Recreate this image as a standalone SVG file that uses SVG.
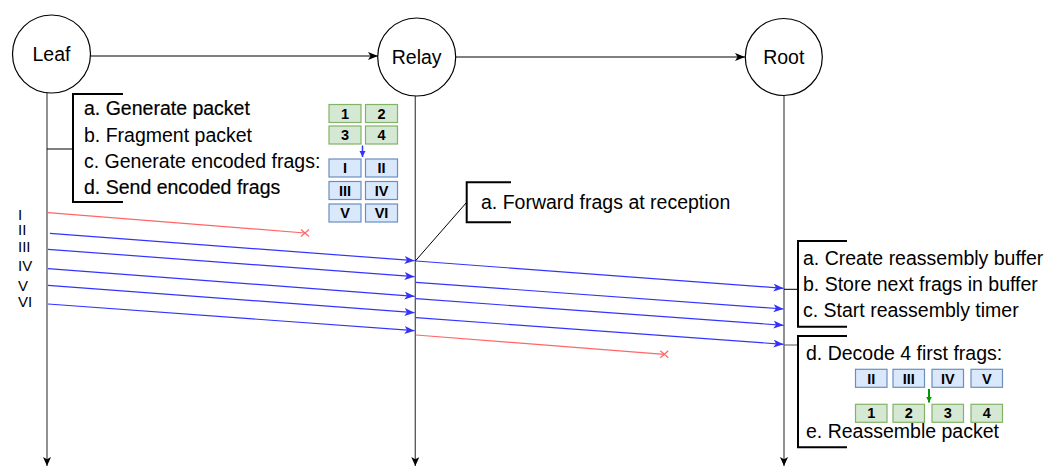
<svg xmlns="http://www.w3.org/2000/svg" width="1047" height="467" viewBox="0 0 1047 467">
<style>
text{font-family:"Liberation Sans",Arial,Helvetica,sans-serif;}
.lbl{font-size:19.5px;fill:#000;}
.node{fill:#fff;stroke:#000;stroke-width:1.2;}
.life{stroke:#555;stroke-width:1.3;fill:none;}
.brk{stroke:#000;stroke-width:2;fill:none;}
.thin{stroke:#000;stroke-width:1;fill:none;}
.msg{stroke:#3333ff;stroke-width:1.2;fill:none;}
.lost{stroke:#ff6666;stroke-width:1.2;fill:none;}
.g{fill:#d5e8d4;stroke:#82b366;stroke-width:1.2;}
.b{fill:#dae8fc;stroke:#6c8ebf;stroke-width:1.2;}
.bt{font-size:14.5px;font-weight:bold;text-anchor:middle;fill:#000;}
.num{font-size:15px;fill:#000;}
.em{stroke:#000;stroke-width:0.2;}
</style>
<defs>
<marker id="ab" markerUnits="userSpaceOnUse" markerWidth="12" markerHeight="10" refX="10" refY="4" orient="auto">
<path d="M0,0 L10,4 L0,8 L2.5,4 Z" fill="#000"/>
</marker>
<marker id="ablue" markerUnits="userSpaceOnUse" markerWidth="12" markerHeight="10" refX="10" refY="4" orient="auto">
<path d="M0,0 L10,4 L0,8 L2.5,4 Z" fill="#3333ff"/>
</marker>
<marker id="agrey" markerUnits="userSpaceOnUse" markerWidth="12" markerHeight="10" refX="9" refY="4" orient="auto">
<path d="M0,0 L9,4 L0,8 L2.2,4 Z" fill="#000"/>
</marker>
<marker id="asmb" markerUnits="userSpaceOnUse" markerWidth="8" markerHeight="8" refX="6" refY="3" orient="auto">
<path d="M0,0 L6,3 L0,6 Z" fill="#3333ff"/>
</marker>
<marker id="asmg" markerUnits="userSpaceOnUse" markerWidth="8" markerHeight="8" refX="6" refY="3" orient="auto">
<path d="M0,0 L6,3 L0,6 Z" fill="#009900"/>
</marker>
</defs>

<g id="connectors">
<line x1="91" y1="56" x2="378" y2="56" stroke="#555" stroke-width="1.3" marker-end="url(#ab)"/>
<line x1="456" y1="57" x2="745" y2="57" class="thin" marker-end="url(#ab)"/>
<line x1="47" y1="92.5" x2="47" y2="466" class="life" marker-end="url(#agrey)"/>
<line x1="415.3" y1="96" x2="415.3" y2="466" class="life" marker-end="url(#agrey)"/>
<line x1="784" y1="96" x2="784" y2="466" class="life" marker-end="url(#agrey)"/>
<line x1="48" y1="212.7" x2="305" y2="233" class="lost"/>
<line x1="50" y1="233.3" x2="414.5" y2="260.7" class="msg" marker-end="url(#ablue)"/>
<line x1="48" y1="249.3" x2="414.5" y2="276.7" class="msg" marker-end="url(#ablue)"/>
<line x1="48" y1="268.7" x2="414.5" y2="296.3" class="msg" marker-end="url(#ablue)"/>
<line x1="48" y1="285.3" x2="414.5" y2="312.7" class="msg" marker-end="url(#ablue)"/>
<line x1="48" y1="304" x2="414.5" y2="330.7" class="msg" marker-end="url(#ablue)"/>
<line x1="416" y1="261" x2="783.5" y2="288.3" class="msg" marker-end="url(#ablue)"/>
<line x1="416" y1="282.3" x2="783.5" y2="309" class="msg" marker-end="url(#ablue)"/>
<line x1="416" y1="298.7" x2="783.5" y2="325.3" class="msg" marker-end="url(#ablue)"/>
<line x1="416" y1="317.7" x2="783.5" y2="344.3" class="msg" marker-end="url(#ablue)"/>
<line x1="416" y1="335" x2="664.3" y2="354.3" class="lost"/>
<path d="M301,229.5 L309,236.5 M309,229.5 L301,236.5" class="lost"/>
<path d="M660.3,350.8 L668.3,357.8 M668.3,350.8 L660.3,357.8" class="lost"/>
<line x1="47" y1="149" x2="73" y2="149" class="thin"/>
<line x1="466.7" y1="202.3" x2="415.3" y2="261" class="thin"/>
<line x1="784" y1="289.3" x2="798" y2="289.3" class="thin"/>
<line x1="784" y1="345" x2="798" y2="345" stroke="#555" stroke-width="1"/>
</g>

<g id="leaf">
<circle cx="51.5" cy="54" r="39" class="node"/>
<text x="51.5" y="61" class="lbl" text-anchor="middle">Leaf</text>
</g>
<g id="relay">
<circle cx="416.7" cy="57" r="39" class="node"/>
<text x="416.7" y="64" class="lbl" text-anchor="middle">Relay</text>
</g>
<g id="root">
<circle cx="783.8" cy="57" r="38.5" class="node"/>
<text x="783.8" y="64" class="lbl" text-anchor="middle">Root</text>
</g>

<g id="frag-labels">
<text x="18" y="220" class="num">I</text>
<text x="18" y="235" class="num">II</text>
<text x="18" y="252.3" class="num">III</text>
<text x="18" y="271" class="num">IV</text>
<text x="18" y="290.7" class="num">V</text>
<text x="18" y="307.3" class="num">VI</text>
</g>

<g id="leaf-note">
<path d="M123,94 H73 V202 H123" class="brk"/>
<text x="84" y="115" class="lbl em">a. Generate packet</text>
<text x="84" y="141.5" class="lbl">b. Fragment packet</text>
<text x="84" y="167.5" class="lbl">c. Generate encoded frags:</text>
<text x="84" y="193.5" class="lbl em">d. Send encoded frags</text>
</g>

<g id="leaf-frags">
<rect x="329" y="104.5" width="32" height="18" class="g"/><text x="345" y="118.8" class="bt">1</text>
<rect x="365.5" y="104.5" width="32" height="18" class="g"/><text x="381.5" y="118.8" class="bt">2</text>
<rect x="329" y="126" width="32" height="18" class="g"/><text x="345" y="140.3" class="bt">3</text>
<rect x="365.5" y="126" width="32" height="18" class="g"/><text x="381.5" y="140.3" class="bt">4</text>
<line x1="362.5" y1="145.5" x2="362.5" y2="157" stroke="#3333ff" stroke-width="1.5" marker-end="url(#asmb)"/>
<rect x="329" y="159" width="32" height="18" class="b"/><text x="345" y="173.3" class="bt">I</text>
<rect x="365.5" y="159" width="32" height="18" class="b"/><text x="381.5" y="173.3" class="bt">II</text>
<rect x="329" y="181.5" width="32" height="18" class="b"/><text x="345" y="195.8" class="bt">III</text>
<rect x="365.5" y="181.5" width="32" height="18" class="b"/><text x="381.5" y="195.8" class="bt">IV</text>
<rect x="329" y="204" width="32" height="18" class="b"/><text x="345" y="218.3" class="bt">V</text>
<rect x="365.5" y="204" width="32" height="18" class="b"/><text x="381.5" y="218.3" class="bt">VI</text>
</g>

<g id="relay-note">
<path d="M511,182.3 H466.7 V222.3 H511" class="brk"/>
<text x="481" y="209" class="lbl">a. Forward frags at reception</text>
</g>

<g id="root-note-1">
<path d="M847,241 H798 V326.7 H847" class="brk"/>
<text x="803" y="265" class="lbl">a. Create reassembly buffer</text>
<text x="803" y="291" class="lbl">b. Store next frags in buffer</text>
<text x="803" y="317" class="lbl">c. Start reassembly timer</text>
</g>

<g id="root-note-2">
<path d="M847,336 H798 V447.3 H847" class="brk"/>
<text x="806" y="359.5" class="lbl">d. Decode 4 first frags:</text>
<text x="806" y="438" class="lbl">e. Reassemble packet</text>
</g>

<g id="root-frags">
<rect x="855.5" y="369.3" width="31.5" height="18" class="b"/><text x="871.3" y="383.6" class="bt">II</text>
<rect x="893" y="369.3" width="31.5" height="18" class="b"/><text x="908.8" y="383.6" class="bt">III</text>
<rect x="932" y="369.3" width="31.5" height="18" class="b"/><text x="947.8" y="383.6" class="bt">IV</text>
<rect x="971" y="369.3" width="31.5" height="18" class="b"/><text x="986.8" y="383.6" class="bt">V</text>
<line x1="929" y1="389" x2="929" y2="402.5" stroke="#009900" stroke-width="2" marker-end="url(#asmg)"/>
<rect x="855.5" y="404.3" width="31.5" height="18" class="g"/><text x="871.3" y="418.4" class="bt">1</text>
<rect x="893" y="404.3" width="31.5" height="18" class="g"/><text x="908.8" y="418.4" class="bt">2</text>
<rect x="932" y="404.3" width="31.5" height="18" class="g"/><text x="947.8" y="418.4" class="bt">3</text>
<rect x="971" y="404.3" width="31.5" height="18" class="g"/><text x="986.8" y="418.4" class="bt">4</text>
</g>
</svg>
